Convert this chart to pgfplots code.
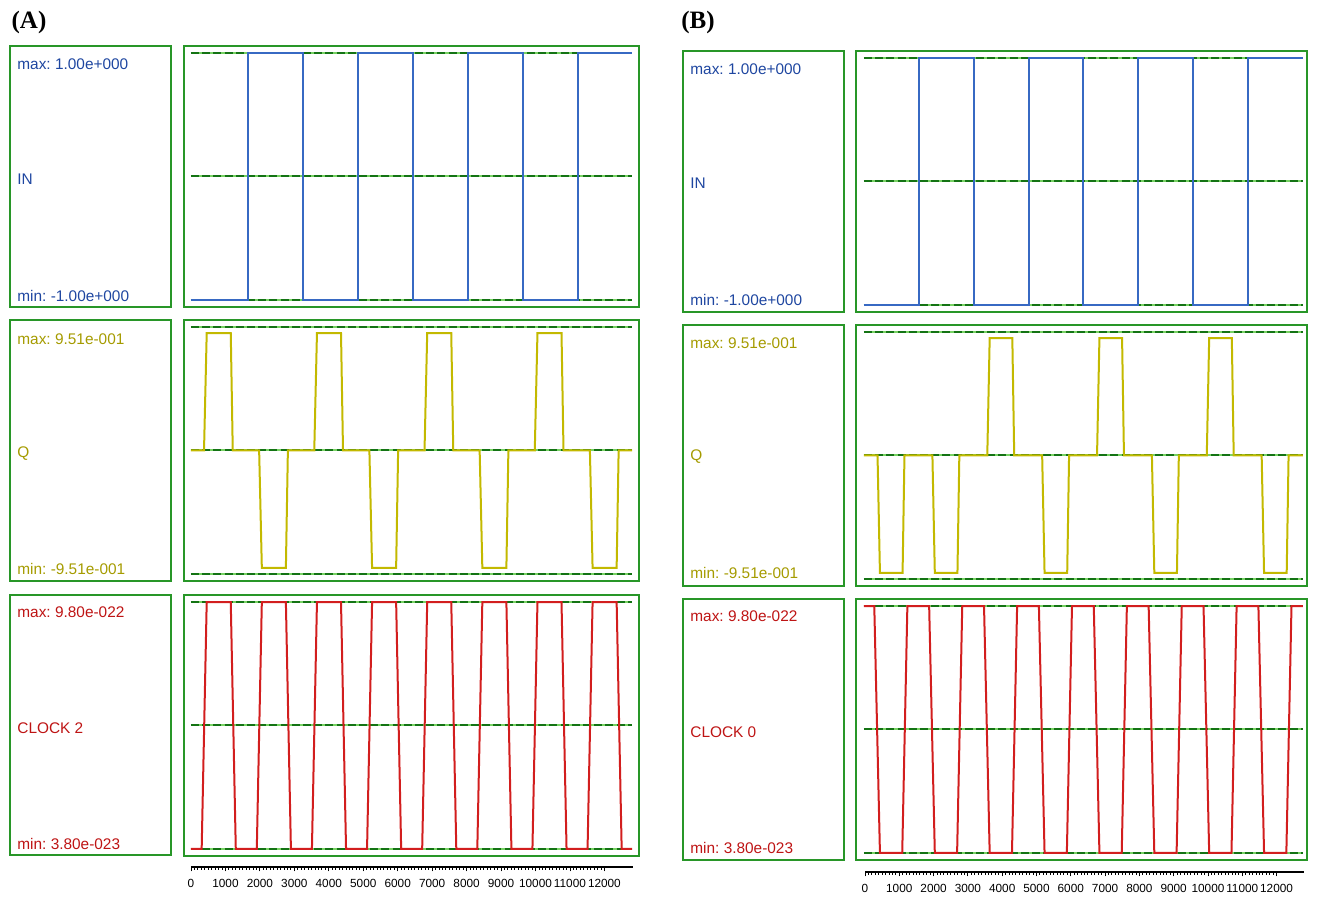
\documentclass[border=0pt]{standalone}
\usepackage{fontspec}
\setmainfont{Liberation Sans}
\newfontfamily\lserif{Liberation Serif}
\usepackage{pgfplots}
\pgfplotsset{compat=1.18}
\definecolor{boxgreen}{RGB}{40,150,40}
\definecolor{dashdark}{RGB}{20,115,20}
\definecolor{dashlight}{RGB}{120,210,100}
\definecolor{inline}{RGB}{55,105,195}
\definecolor{intext}{RGB}{30,70,160}
\definecolor{qline}{RGB}{195,185,0}
\definecolor{qtext}{RGB}{165,155,0}
\definecolor{ckline}{RGB}{210,30,30}
\definecolor{cktext}{RGB}{190,20,20}
\pgfplotsset{
  sig/.style={scale only axis, anchor=north west, height=130.5pt,
    xtick=\empty, ytick=\empty, ymin=-1.057, ymax=1.057,
    axis line style={boxgreen, line width=1.1pt}, clip=false},
  sigA/.style={sig, width=227.5pt, xmin=-203, xmax=13003},
  sigB/.style={sig, width=225.5pt, xmin=-233, xmax=12917},
  ruler/.style={scale only axis, anchor=south west, height=2pt, ymin=0, ymax=1,
    hide y axis, axis x line*=bottom, axis line style={black, line width=0.7pt},
    xtick={0,1000,...,12000}, minor x tick num=9, tick align=outside,
    major tick length=2.2pt, minor tick length=1.5pt,
    every tick/.style={black, line width=0.45pt},
    scaled x ticks=false,
    xticklabel style={font=\fontsize{5.9}{7}\selectfont, inner sep=1pt, yshift=-2.5pt},
    /pgf/number format/assume math mode=true,
    /pgf/number format/1000 sep={}},
  basel/.style={dashlight, line width=1pt},
  dashl/.style={dashdark, line width=1pt, dash pattern=on 4pt off 1.6pt},
}
\newcommand{\guides}{%
  \addplot[basel] coordinates {(0,1) (12800,1)};
  \addplot[basel] coordinates {(0,0) (12800,0)};
  \addplot[basel] coordinates {(0,-1) (12800,-1)};
  \addplot[dashl] coordinates {(0,1) (12800,1)};
  \addplot[dashl] coordinates {(0,0) (12800,0)};
  \addplot[dashl] coordinates {(0,-1) (12800,-1)};
}
\newcommand{\lab}{\fontsize{7.7}{9}\selectfont}
\frenchspacing
\begin{document}
\frenchspacing
\begin{tikzpicture}
\path (0,0) rectangle (659.5pt,-448.5pt);
% panel titles
\node[font=\lserif\bfseries\fontsize{12.5}{14}\selectfont] at (14.5pt,-11pt) {(A)};
\node[font=\lserif\bfseries\fontsize{12.5}{14}\selectfont] at (349pt,-11pt) {(B)};
% label boxes A
\draw[boxgreen, line width=1.1pt] (5pt,-23pt) rectangle (85.5pt,-153.5pt);
\draw[boxgreen, line width=1.1pt] (5pt,-160pt) rectangle (85.5pt,-290.5pt);
\draw[boxgreen, line width=1.1pt] (5pt,-297.5pt) rectangle (85.5pt,-427.5pt);
% label boxes B
\draw[boxgreen, line width=1.1pt] (341.5pt,-25.5pt) rectangle (422pt,-156pt);
\draw[boxgreen, line width=1.1pt] (341.5pt,-162.5pt) rectangle (422pt,-293pt);
\draw[boxgreen, line width=1.1pt] (341.5pt,-299.5pt) rectangle (422pt,-430pt);
% texts A
\begin{scope}[every node/.style={anchor=west, inner sep=0pt, font=\lab}]
\node[text=intext] at (8.5pt,-32pt) {max: 1.00e+000};
\node[text=intext] at (8.5pt,-89.5pt) {IN};
\node[text=intext] at (8.5pt,-148.25pt) {min: -1.00e+000};
\node[text=qtext] at (8.5pt,-169.5pt) {max: 9.51e-001};
\node[text=qtext] at (8.5pt,-227pt) {Q};
\node[text=qtext] at (8.5pt,-284.5pt) {min: -9.51e-001};
\node[text=cktext] at (8.5pt,-306pt) {max: 9.80e-022};
\node[text=cktext] at (8.5pt,-364pt) {CLOCK 2};
\node[text=cktext] at (8.5pt,-422pt) {min: 3.80e-023};
% texts B
\node[text=intext] at (345pt,-34.5pt) {max: 1.00e+000};
\node[text=intext] at (345pt,-91.5pt) {IN};
\node[text=intext] at (345pt,-150pt) {min: -1.00e+000};
\node[text=qtext] at (345pt,-171.5pt) {max: 9.51e-001};
\node[text=qtext] at (345pt,-228.5pt) {Q};
\node[text=qtext] at (345pt,-286.5pt) {min: -9.51e-001};
\node[text=cktext] at (345pt,-308pt) {max: 9.80e-022};
\node[text=cktext] at (345pt,-366pt) {CLOCK 0};
\node[text=cktext] at (345pt,-424pt) {min: 3.80e-023};
\end{scope}

% ---------- Panel A ----------
\begin{axis}[sigA, at={(92pt,-23pt)}]
\guides
\addplot[inline, line width=1pt] coordinates {(0,-1) (1640,-1) (1640,1) (3240,1) (3240,-1) (4840,-1) (4840,1) (6440,1) (6440,-1) (8040,-1) (8040,1) (9640,1) (9640,-1) (11240,-1) (11240,1) (12800,1)};
\end{axis}
\begin{axis}[sigA, at={(92pt,-160pt)}]
\guides
\addplot[qline, line width=1pt] coordinates {(0,0) (378,0) (456,0.951) (1154,0.951) (1212,0) (1978,0) (2056,-0.951) (2754,-0.951) (2812,0) (3578,0) (3656,0.951) (4354,0.951) (4412,0) (5178,0) (5256,-0.951) (5954,-0.951) (6012,0) (6778,0) (6856,0.951) (7554,0.951) (7612,0) (8378,0) (8456,-0.951) (9154,-0.951) (9212,0) (9978,0) (10056,0.951) (10754,0.951) (10812,0) (11578,0) (11656,-0.951) (12354,-0.951) (12412,0) (12800,0)};
\end{axis}
\begin{axis}[sigA, at={(92pt,-297.5pt)}]
\guides
\addplot[ckline, line width=1pt] coordinates {(0,-1) (310,-1) (456,1) (1154,1) (1300,-1) (1910,-1) (2056,1) (2754,1) (2900,-1) (3510,-1) (3656,1) (4354,1) (4500,-1) (5110,-1) (5256,1) (5954,1) (6100,-1) (6710,-1) (6856,1) (7554,1) (7700,-1) (8310,-1) (8456,1) (9154,1) (9300,-1) (9910,-1) (10056,1) (10754,1) (10900,-1) (11510,-1) (11656,1) (12354,1) (12500,-1) (12800,-1)};
\end{axis}
\begin{axis}[ruler, at={(95.5pt,-433.5pt)}, width=221pt, xmin=0, xmax=12830]
\addplot[draw=none] coordinates {(0,0)};
\end{axis}

% ---------- Panel B ----------
\begin{axis}[sigB, at={(428pt,-25.5pt)}]
\guides
\addplot[inline, line width=1pt] coordinates {(0,-1) (1600,-1) (1600,1) (3200,1) (3200,-1) (4800,-1) (4800,1) (6400,1) (6400,-1) (8000,-1) (8000,1) (9600,1) (9600,-1) (11200,-1) (11200,1) (12800,1)};
\end{axis}
\begin{axis}[sigB, at={(428pt,-162.5pt)}]
\guides
\addplot[qline, line width=1pt] coordinates {(0,0) (395,0) (465,-0.951) (1125,-0.951) (1180,0) (1995,0) (2065,-0.951) (2725,-0.951) (2780,0) (3595,0) (3665,0.951) (4325,0.951) (4380,0) (5195,0) (5265,-0.951) (5925,-0.951) (5980,0) (6795,0) (6865,0.951) (7525,0.951) (7580,0) (8395,0) (8465,-0.951) (9125,-0.951) (9180,0) (9995,0) (10065,0.951) (10725,0.951) (10780,0) (11595,0) (11665,-0.951) (12325,-0.951) (12380,0) (12800,0)};
\end{axis}
\begin{axis}[sigB, at={(428pt,-299.5pt)}]
\guides
\addplot[ckline, line width=1pt] coordinates {(0,1) (300,1) (465,-1) (1115,-1) (1265,1) (1900,1) (2065,-1) (2715,-1) (2865,1) (3500,1) (3665,-1) (4315,-1) (4465,1) (5100,1) (5265,-1) (5915,-1) (6065,1) (6700,1) (6865,-1) (7515,-1) (7665,1) (8300,1) (8465,-1) (9115,-1) (9265,1) (9900,1) (10065,-1) (10715,-1) (10865,1) (11500,1) (11665,-1) (12315,-1) (12465,1) (12800,1)};
\end{axis}
\begin{axis}[ruler, at={(432.5pt,-436pt)}, width=219.5pt, xmin=0, xmax=12800]
\addplot[draw=none] coordinates {(0,0)};
\end{axis}
\end{tikzpicture}
\end{document}
